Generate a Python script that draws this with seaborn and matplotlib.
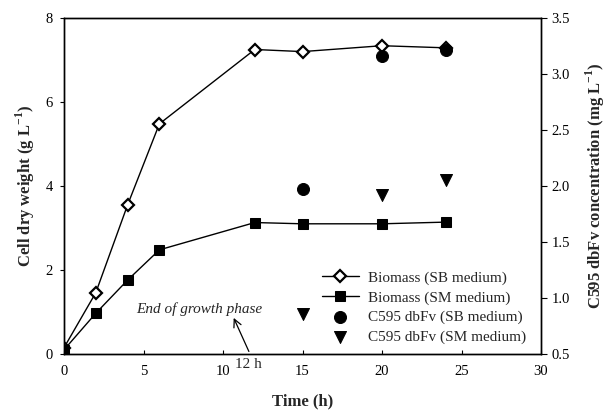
import numpy as np
import pandas as pd
import matplotlib
matplotlib.use("Agg")
import matplotlib.pyplot as plt
import seaborn as sns

# ---- data ----
time_biomass = [0, 2, 4, 6, 12, 15, 20, 24]
biomass_sb = [0.15, 1.46, 3.55, 5.48, 7.25, 7.20, 7.34, 7.29]
biomass_sm = [0.10, 0.97, 1.76, 2.48, 3.13, 3.10, 3.10, 3.14]
time_c595 = [15, 20, 24]
c595_sb = [1.97, 3.16, 3.21]
c595_sm = [0.86, 1.92, 2.05]
x_ticks = [0, 5, 10, 15, 20, 25, 30]
left_ticks = [0, 2, 4, 6, 8]
right_ticks = [0.5, 1.0, 1.5, 2.0, 2.5, 3.0, 3.5]

sns.set_style("ticks")
plt.rcParams['font.family'] = ['Liberation Serif', 'DejaVu Serif']
plt.rcParams['mathtext.fontset'] = 'custom'
plt.rcParams['mathtext.rm'] = 'Liberation Serif'
plt.rcParams['mathtext.bf'] = 'Liberation Serif:bold'

fig = plt.figure(figsize=(6.11, 4.12), dpi=100)
ax = fig.add_axes([64/611, 1-354/412, (541-64)/611, (354-18)/412])
ax2 = ax.twinx()

sns.lineplot(x=time_biomass, y=biomass_sb, ax=ax, color='black', linewidth=1,
             marker='D', markersize=6.5, markerfacecolor='white',
             markeredgecolor='black', markeredgewidth=1.6,
             label='Biomass (SB medium)', legend=False)
sns.lineplot(x=time_biomass, y=biomass_sm, ax=ax, color='black', linewidth=1,
             marker='s', markersize=7.5, markerfacecolor='black',
             markeredgecolor='black', label='Biomass (SM medium)', legend=False)
sns.scatterplot(x=time_c595, y=c595_sb, ax=ax2, marker='o', s=75, color='black',
                edgecolor='black', label='C595 dbFv (SB medium)', legend=False)
sns.scatterplot(x=time_c595, y=c595_sm, ax=ax2, marker='v', s=75, color='black',
                edgecolor='black', label='C595 dbFv (SM medium)', legend=False)

ax.set_xlim(0, 30)
ax.set_ylim(0, 8)
ax2.set_ylim(0.5, 3.5)
ax.set_xticks(x_ticks)
ax.set_yticks(left_ticks)
ax2.set_yticks(right_ticks)
ax2.set_yticklabels([f"{v:.1f}" for v in right_ticks])

for a in (ax, ax2):
    for s in a.spines.values():
        s.set_color('black')
        s.set_linewidth(1.0)
ax.tick_params(axis='x', direction='in', length=3, labelsize=10.5, pad=8, colors='black')
ax.tick_params(axis='y', direction='out', length=3, labelsize=10.5, pad=5, colors='black')
ax2.tick_params(axis='y', direction='out', length=4, labelsize=10.5, colors='black')

ax.set_xlabel('Time (h)', fontsize=12, fontweight='bold', labelpad=11)
ax.set_ylabel(r'Cell dry weight (g L$^{\mathbf{-1}}$)', fontsize=12, fontweight='bold', labelpad=6)
ax2.set_ylabel(r'C595 dbFv concentration (mg L$^{\mathbf{-1}}$)', fontsize=12,
               fontweight='bold', labelpad=10)

ax.annotate('', xy=(10.6, 0.92), xytext=(11.7, 0.0),
            arrowprops=dict(arrowstyle='->', lw=0.9, color='black', mutation_scale=14))
ax.text(8.5, 1.07, 'End of growth phase', fontsize=11, style='italic',
        ha='center', va='center')
ax.text(11.6, -0.26, '12 h', fontsize=11, ha='center', va='center', clip_on=False)

h1, lab1 = ax.get_legend_handles_labels()
h2, lab2 = ax2.get_legend_handles_labels()
leg = ax2.legend(h1 + h2, lab1 + lab2, loc='upper left',
                 bbox_to_anchor=(322/611, 1-271/412), bbox_transform=fig.transFigure,
                 frameon=False, fontsize=11, borderpad=0, borderaxespad=0,
                 handlelength=2.4, handletextpad=0.6, labelspacing=0.38)

fig.savefig('out.png', dpi=100)
